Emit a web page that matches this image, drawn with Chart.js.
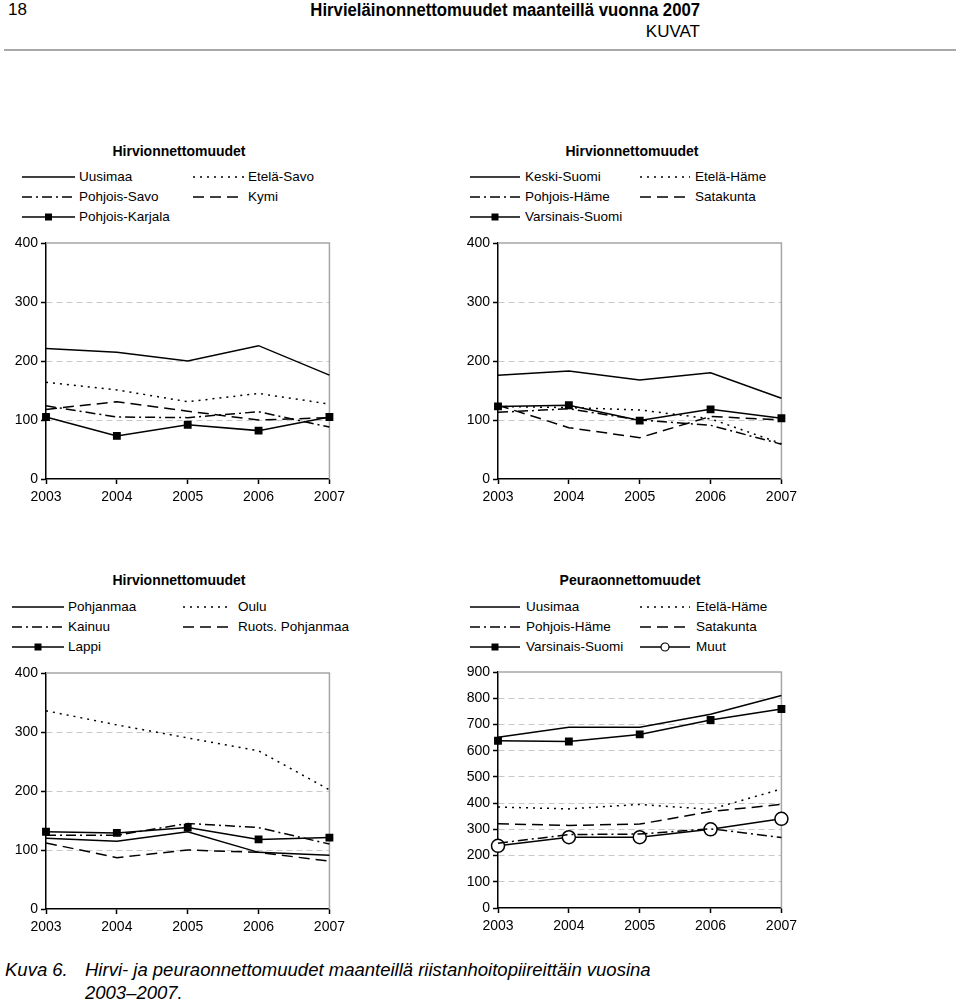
<!DOCTYPE html>
<html>
<head>
<meta charset="utf-8">
<script src="https://cdn.jsdelivr.net/npm/chart.js@4.4.0/dist/chart.umd.min.js"></script>
<style>
  body { margin: 0; width: 960px; height: 1006px; position: relative; background: #fff; color: #000;
         font-family: "Liberation Sans", Arial, sans-serif; overflow: hidden; }
  .abs { position: absolute; white-space: nowrap; }
  .narrow { font-family: "Liberation Sans Narrow", "Arial Narrow", "Liberation Sans", sans-serif; }
  .title { font-weight: bold; font-size: 14px; transform: translate(-50%, -50%); }
  .leg { font-size: 13.5px; line-height: 16px; transform: translateY(-50%); }
  .box { position: absolute; }
</style>
</head>
<body>
<div class="abs narrow" style="left:8px;top:0px;font-size:17px;">18</div>
<div class="abs narrow" style="right:260px;top:0px;font-size:18px;font-weight:bold;transform:scaleX(0.93);transform-origin:right center;">Hirvieläinonnettomuudet maanteillä vuonna 2007</div>
<div class="abs narrow" style="right:260px;top:22px;font-size:17px;">KUVAT</div>
<div class="abs" style="left:4px;top:49px;width:952px;height:2px;background:#a8a8a8;"></div>

<div id="box1" class="box" style="left:0px;top:230px;"><canvas id="c1" width="350" height="290"></canvas></div>
<div id="box2" class="box" style="left:452px;top:230px;"><canvas id="c2" width="350" height="290"></canvas></div>
<div id="box3" class="box" style="left:0px;top:660px;"><canvas id="c3" width="350" height="290"></canvas></div>
<div id="box4" class="box" style="left:452px;top:659px;"><canvas id="c4" width="350" height="290"></canvas></div>

<div class="abs narrow" style="left:5px;top:959px;font-size:18.5px;font-style:italic;">Kuva 6.</div>
<div class="abs narrow" style="left:85px;top:959px;font-size:18.5px;font-style:italic;">Hirvi- ja peuraonnettomuudet maanteillä riistanhoitopiireittäin vuosina</div>
<div class="abs narrow" style="left:85px;top:982px;font-size:18.5px;font-style:italic;">2003–2007.</div>

<script>
// x-axis categories
const years = ['2003', '2004', '2005', '2006', '2007'];

// Chart 1: Hirvionnettomuudet
const names1 = ['Uusimaa', 'Etelä-Savo', 'Pohjois-Savo', 'Kymi', 'Pohjois-Karjala'];
const uusimaa1 = [221, 215, 200, 226, 176];
const etelaSavo = [164, 151, 131, 145, 127];
const pohjoisSavo = [124, 105, 104, 114, 88];
const kymi = [118, 131, 115, 100, 104];
const pohjoisKarjala = [105, 73, 92, 82, 105];

// Chart 2: Hirvionnettomuudet
const names2 = ['Keski-Suomi', 'Etelä-Häme', 'Pohjois-Häme', 'Satakunta', 'Varsinais-Suomi'];
const keskiSuomi = [176, 183, 168, 180, 137];
const etelaHame2 = [123, 121, 117, 102, 60];
const pohjoisHame2 = [113, 119, 100, 91, 59];
const satakunta2 = [125, 87, 70, 106, 100];
const varsinaisSuomi2 = [123, 125, 99, 118, 103];

// Chart 3: Hirvionnettomuudet
const names3 = ['Pohjanmaa', 'Oulu', 'Kainuu', 'Ruots. Pohjanmaa', 'Lappi'];
const pohjanmaa = [120, 115, 131, 96, 91];
const oulu = [336, 312, 290, 268, 202];
const kainuu = [125, 125, 145, 138, 110];
const ruotsPohjanmaa = [112, 87, 100, 96, 81];
const lappi = [131, 129, 138, 118, 121];

// Chart 4: Peuraonnettomuudet
const names4 = ['Uusimaa', 'Etelä-Häme', 'Pohjois-Häme', 'Satakunta', 'Varsinais-Suomi', 'Muut'];
const uusimaa4 = [651, 689, 689, 739, 810];
const etelaHame4 = [385, 378, 395, 376, 454];
const pohjoisHame4 = [247, 280, 282, 302, 269];
const satakunta4 = [321, 315, 320, 368, 395];
const varsinaisSuomi4 = [638, 635, 662, 717, 759];
const muut = [237, 270, 270, 300, 340];

// tick labels of value axes
const ticksHirvi = [0, 100, 200, 300, 400];
const ticksPeura = [0, 100, 200, 300, 400, 500, 600, 700, 800, 900];

// line looks, by series position
const looks = [
  { dash: [], marker: null },
  { dash: [2, 5], marker: null },
  { dash: [10, 4, 2, 4], marker: null },
  { dash: [11, 6], marker: null },
  { dash: [], marker: 'rect' },
  { dash: [], marker: 'circle' }
];

const frame = {
  id: 'frame',
  beforeDatasetsDraw(chart) {
    const a = chart.chartArea, c = chart.ctx;
    c.save();
    c.strokeStyle = '#a6a6a6';
    c.lineWidth = 1.5;
    c.beginPath();
    c.moveTo(a.left, a.top);
    c.lineTo(a.right, a.top);
    c.lineTo(a.right, a.bottom);
    c.stroke();
    c.restore();
  }
};

function makeChart(id, names, series, ticks) {
  const top = ticks[ticks.length - 1];
  const datasets = series.map((data, i) => {
    const lk = looks[i];
    return {
      label: names[i],
      data: data,
      borderColor: '#000',
      borderWidth: 1.5,
      borderDash: lk.dash,
      fill: false,
      tension: 0,
      clip: false,
      pointStyle: lk.marker || 'circle',
      pointRadius: lk.marker === 'rect' ? 4.5 : (lk.marker === 'circle' ? 6.5 : 0),
      pointBackgroundColor: lk.marker === 'circle' ? '#fff' : '#000',
      pointBorderColor: '#000',
      pointBorderWidth: 1.5
    };
  });
  return new Chart(document.getElementById(id), {
    type: 'line',
    data: { labels: years, datasets: datasets },
    plugins: [frame],
    options: {
      responsive: false,
      animation: false,
      layout: { padding: { top: 13, right: 20, left: 0, bottom: 0 } },
      plugins: { legend: { display: false }, tooltip: { enabled: false } },
      scales: {
        x: {
          offset: false,
          afterFit(s) { s.height = 41; },
          grid: { drawOnChartArea: false, color: '#000', tickLength: 5, tickWidth: 1.5 },
          border: { color: '#000', width: 1.5 },
          ticks: { color: '#000', font: { size: 14, family: 'Liberation Sans' }, padding: 5, maxRotation: 0 }
        },
        y: {
          min: 0,
          max: top,
          afterFit(s) { s.width = 46; },
          afterBuildTicks(s) { s.ticks = ticks.map(v => ({ value: v })); },
          grid: {
            color: c => (c.tick && (c.tick.value === 0 || c.tick.value === top)) ? 'rgba(0,0,0,0)' : '#c8c8c8',
            lineWidth: 1,
            tickColor: '#000',
            tickLength: 5,
            tickWidth: 1.5
          },
          border: { color: '#000', width: 1.5, dash: [6, 4] },
          ticks: { color: '#000', font: { size: 14, family: 'Liberation Sans' }, padding: 3 }
        }
      }
    }
  });
}

function legendSample(lk, w) {
  const ns = 'http://www.w3.org/2000/svg';
  const svg = document.createElementNS(ns, 'svg');
  svg.setAttribute('width', w);
  svg.setAttribute('height', 12);
  svg.style.position = 'absolute';
  svg.style.left = '0px';
  svg.style.top = '2px';
  const ln = document.createElementNS(ns, 'line');
  ln.setAttribute('x1', 0); ln.setAttribute('x2', w);
  ln.setAttribute('y1', 6); ln.setAttribute('y2', 6);
  ln.setAttribute('stroke', '#000');
  ln.setAttribute('stroke-width', 1.5);
  if (lk.dash.length) ln.setAttribute('stroke-dasharray', lk.dash.join(' '));
  svg.appendChild(ln);
  if (lk.marker === 'rect') {
    const r = document.createElementNS(ns, 'rect');
    r.setAttribute('x', w / 2 - 3.5); r.setAttribute('y', 2.5);
    r.setAttribute('width', 7); r.setAttribute('height', 7);
    r.setAttribute('fill', '#000');
    svg.appendChild(r);
  } else if (lk.marker === 'circle') {
    const c = document.createElementNS(ns, 'circle');
    c.setAttribute('cx', w / 2); c.setAttribute('cy', 6); c.setAttribute('r', 4);
    c.setAttribute('fill', '#fff'); c.setAttribute('stroke', '#000'); c.setAttribute('stroke-width', 1.2);
    svg.appendChild(c);
  }
  return svg;
}

function makeLegend(title, titleX, titleY, names, cols, rowY) {
  const t = document.createElement('div');
  t.className = 'abs title';
  t.style.left = titleX + 'px';
  t.style.top = titleY + 'px';
  t.textContent = title;
  document.body.appendChild(t);
  names.forEach((name, i) => {
    const col = cols[i % 2], y = rowY[Math.floor(i / 2)];
    const item = document.createElement('div');
    item.className = 'abs leg';
    item.style.left = col[0] + 'px';
    item.style.top = y + 'px';
    item.style.height = '16px';
    item.style.paddingLeft = (col[2] - col[0]) + 'px';
    item.appendChild(legendSample(looks[i], col[1] - col[0]));
    item.appendChild(document.createTextNode(name));
    document.body.appendChild(item);
  });
}

makeChart('c1', names1, [uusimaa1, etelaSavo, pohjoisSavo, kymi, pohjoisKarjala], ticksHirvi);
makeChart('c2', names2, [keskiSuomi, etelaHame2, pohjoisHame2, satakunta2, varsinaisSuomi2], ticksHirvi);
makeChart('c3', names3, [pohjanmaa, oulu, kainuu, ruotsPohjanmaa, lappi], ticksHirvi);
makeChart('c4', names4, [uusimaa4, etelaHame4, pohjoisHame4, satakunta4, varsinaisSuomi4, muut], ticksPeura);

makeLegend('Hirvionnettomuudet', 179, 151, names1, [[22, 75, 79], [193, 244, 248]], [177, 197, 217]);
makeLegend('Hirvionnettomuudet', 632, 151, names2, [[470, 520, 525], [640, 690, 695]], [177, 197, 217]);
makeLegend('Hirvionnettomuudet', 179, 580, names3, [[12, 64, 68], [183, 232, 238]], [607, 627, 647]);
makeLegend('Peuraonnettomuudet', 630, 580, names4, [[470, 520, 526], [640, 690, 696]], [607, 627, 647]);
</script>
</body>
</html>
